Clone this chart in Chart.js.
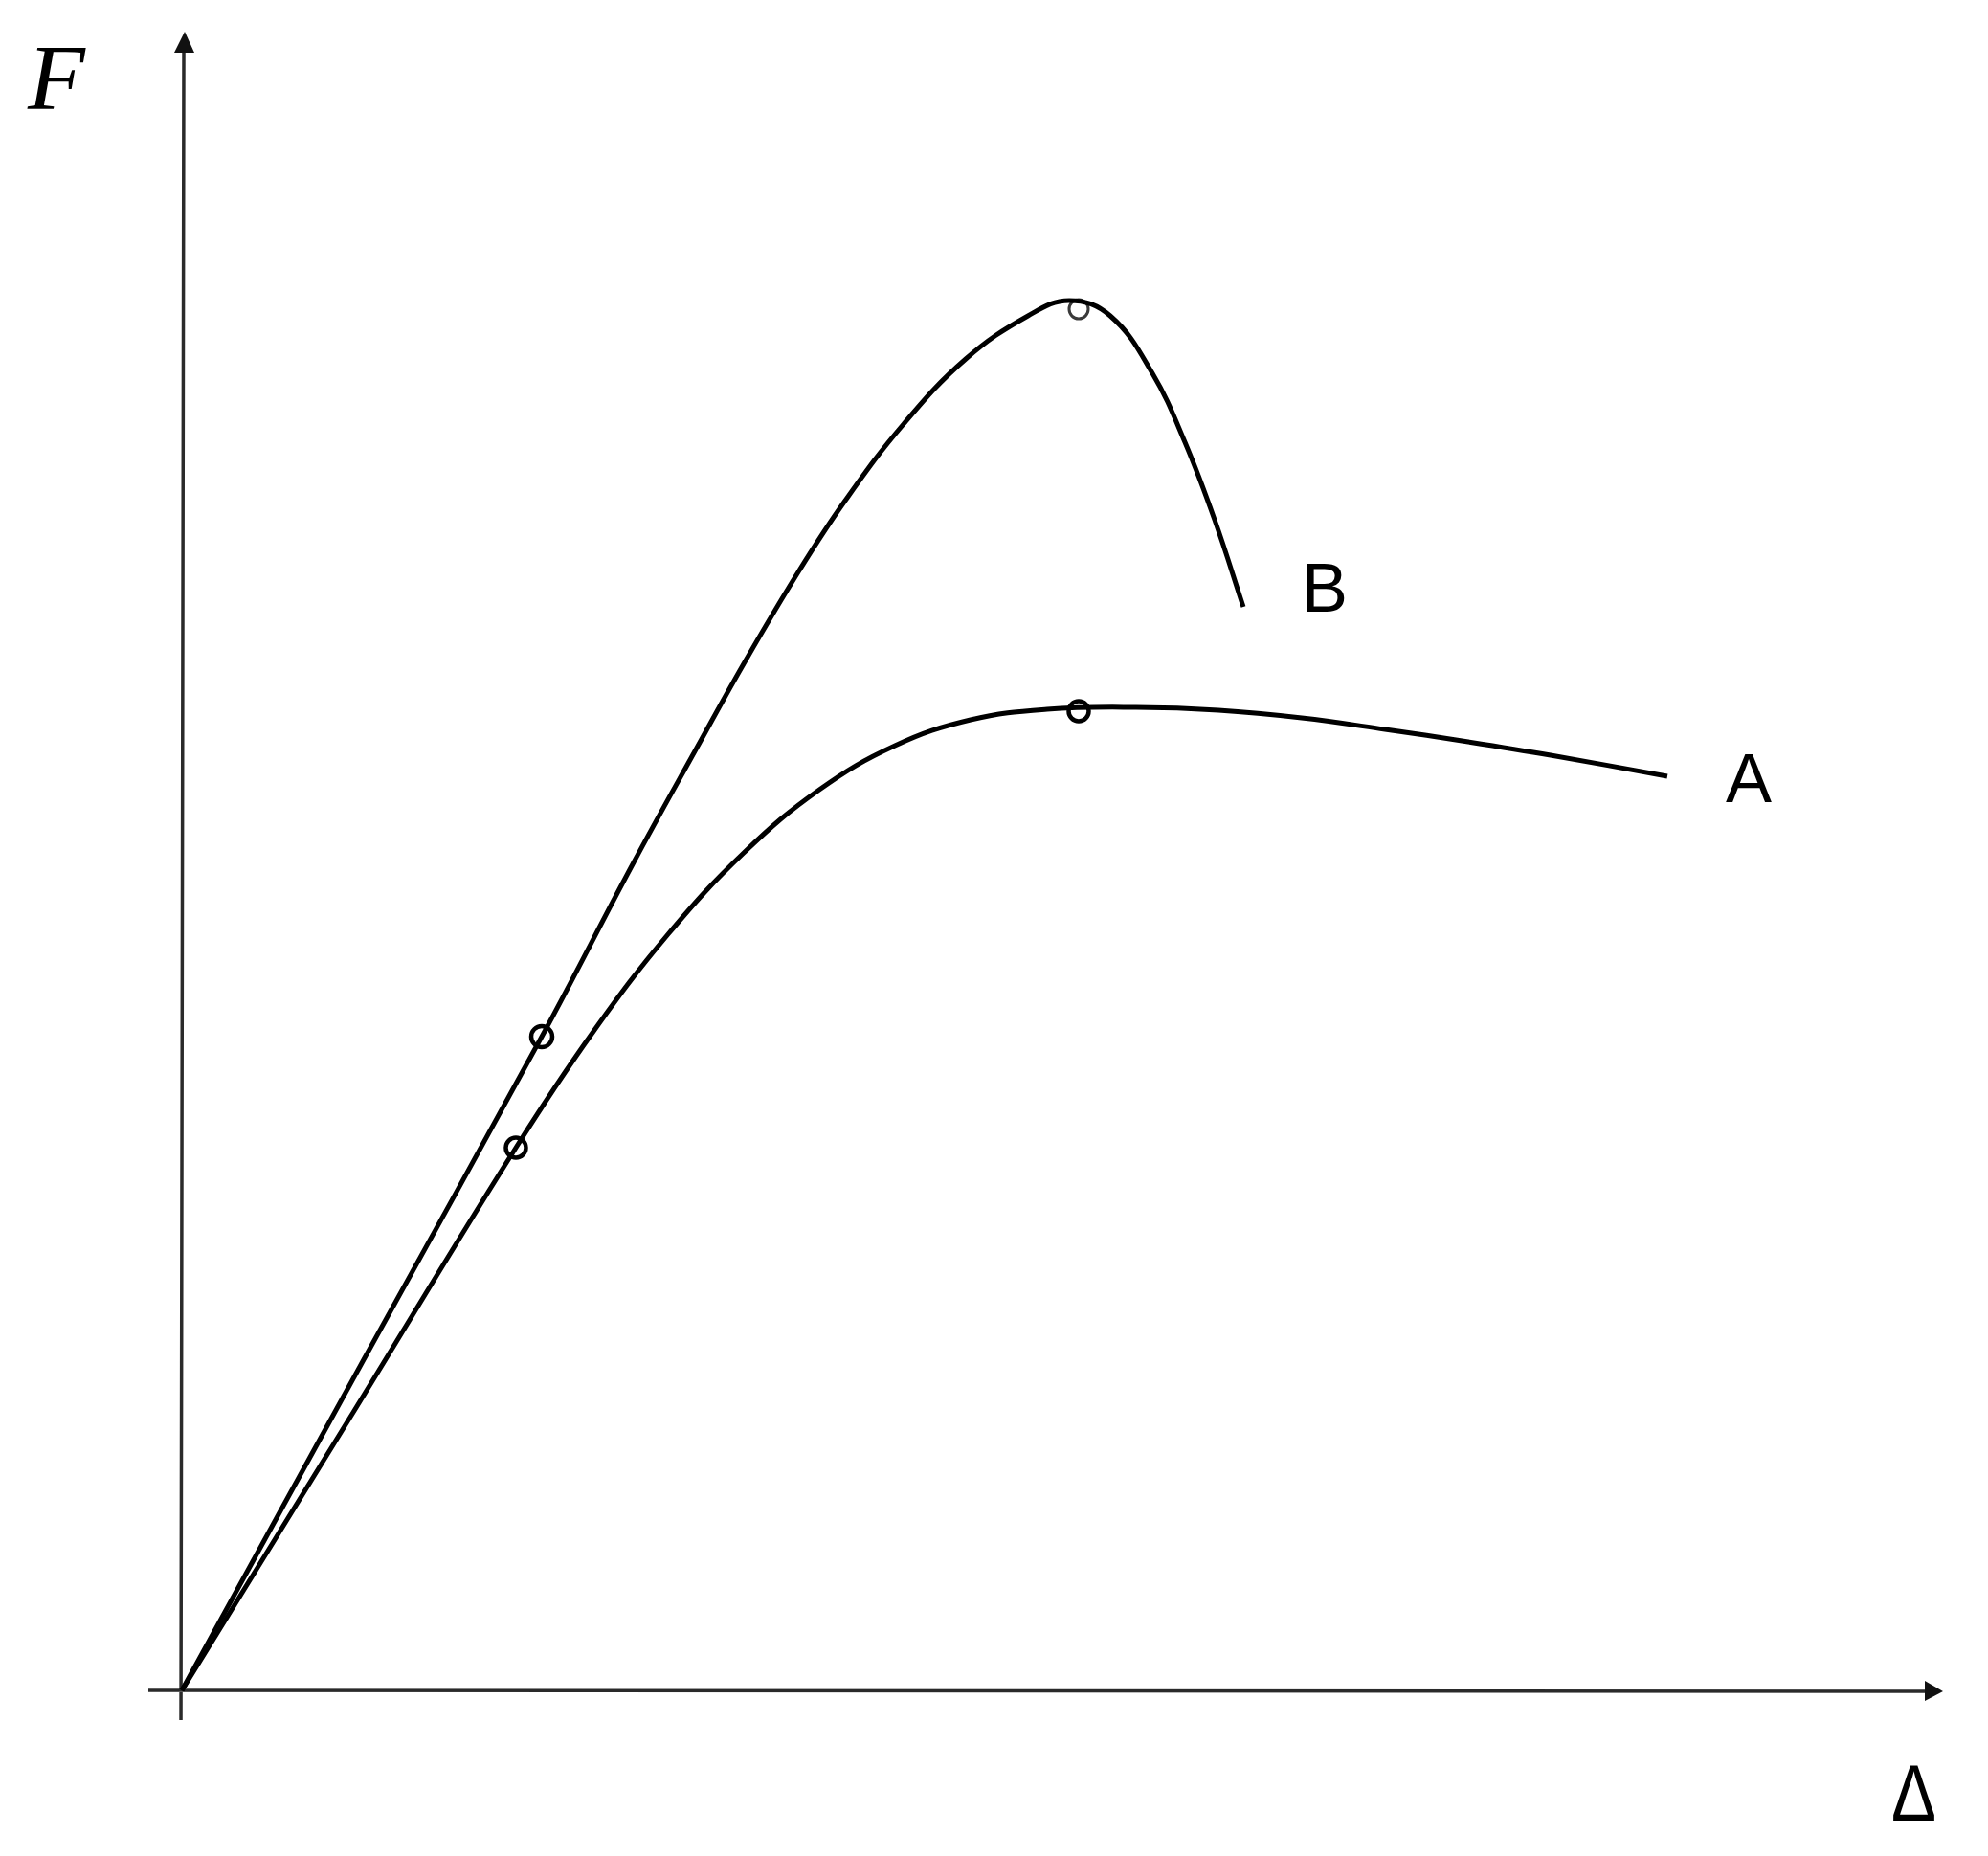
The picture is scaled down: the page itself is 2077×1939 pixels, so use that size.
<!DOCTYPE html>
<html>
<head>
<meta charset="utf-8">
<script src="https://cdn.jsdelivr.net/npm/chart.js@4/dist/chart.umd.min.js"></script>
<style>
	html, body { margin: 0; padding: 0; background: #fff; }
	#box { width: 2077px; height: 1939px; position: relative; }
</style>
</head>
<body>
<div id="box"><canvas id="forceChart"></canvas></div>
<script>
// displacement (Δ) and force (F), arbitrary units
var deltaB = [0, 1.88, 3.76, 4.72, 5.37, 5.89, 6.45, 6.93, 7.54, 8.19, 8.84, 9.27, 9.70, 10.14, 10.48, 10.79, 11.09];
var forceB = [0, 3.42, 6.83, 8.65, 9.83, 10.76, 11.70, 12.43, 13.23, 13.91, 14.36, 14.52, 14.36, 13.76, 13.04, 12.23, 11.32];

var deltaA = [0, 1.75, 3.49, 4.29, 5.08, 5.87, 6.66, 7.45, 8.24, 9.04, 9.97, 10.83, 11.70, 12.57, 13.44, 14.30, 15.52];
var forceA = [0, 2.84, 5.67, 6.87, 7.90, 8.75, 9.41, 9.87, 10.14, 10.25, 10.27, 10.24, 10.16, 10.04, 9.91, 9.77, 9.55];

// marked points: end of the linear part and the peak
var markDeltaB = [3.76, 9.37];
var markForceB = [6.83, 14.43];
var markDeltaA = [3.49, 9.37];
var markForceA = [5.67, 10.23];

var curveNames = ['B', 'A'];

function pairs(xs, ys) {
	return xs.map(function(x, i) { return { x: x, y: ys[i] }; });
}

// axes with arrows plus the letters, placed through the chart scales
var axesPlugin = {
	id: 'axes',
	beforeDatasetsDraw: function(chart) {
		var c = chart.ctx;
		var sx = chart.scales.x, sy = chart.scales.y;
		var ox = sx.getPixelForValue(0), oy = sy.getPixelForValue(0);
		var yTop = sy.getPixelForValue(17.33), yBot = sy.getPixelForValue(-0.31);
		var xLeft = sx.getPixelForValue(-0.35), xRight = sx.getPixelForValue(18.40);

		c.save();
		c.strokeStyle = '#2a2a2a';
		c.fillStyle = '#111';
		c.lineWidth = 3.5;

		c.beginPath();
		c.moveTo(ox - 1, yBot);
		c.lineTo(ox + 2, yTop + 20);
		c.moveTo(xLeft, oy);
		c.lineTo(xRight - 18, oy + 1);
		c.stroke();

		// arrow heads
		c.beginPath();
		c.moveTo(ox + 3, yTop);
		c.lineTo(ox + 13, yTop + 22);
		c.lineTo(ox - 8, yTop + 22);
		c.closePath();
		c.fill();

		c.beginPath();
		c.moveTo(xRight, oy + 1);
		c.lineTo(xRight - 19, oy - 10);
		c.lineTo(xRight - 19, oy + 11);
		c.closePath();
		c.fill();

		c.fillStyle = '#000';
		c.textBaseline = 'alphabetic';
		c.textAlign = 'left';
		c.font = 'italic 98px "Liberation Serif"';
		c.fillText('F', sx.getPixelForValue(-1.61), sy.getPixelForValue(16.52));

		c.font = '72px "Liberation Sans"';
		c.fillText(curveNames[0], sx.getPixelForValue(11.70), sy.getPixelForValue(11.27));
		c.fillText(curveNames[1], sx.getPixelForValue(16.13), sy.getPixelForValue(9.28));
		c.font = '84px "Liberation Sans"';
		c.fillText('\u0394', sx.getPixelForValue(17.86), sy.getPixelForValue(-1.36), 47);
		c.restore();
	}
};

var lineStyle = {
	borderColor: '#000',
	borderWidth: 5,
	pointRadius: 0,
	fill: false,
	tension: 0.4,
	borderCapStyle: 'butt'
};

var chart = new Chart($('forceChart'), {
	type: 'line',
	data: {
		datasets: [
			Object.assign({ label: curveNames[0], data: pairs(deltaB, forceB) }, lineStyle),
			Object.assign({ label: curveNames[1], data: pairs(deltaA, forceA) }, lineStyle),
			{
				label: 'marks B',
				type: 'scatter',
				data: pairs(markDeltaB, markForceB),
				showLine: false,
				backgroundColor: '#fff',
				pointBackgroundColor: '#fff',
				pointBorderColor: ['#000', '#3a3a3a'],
				pointBorderWidth: [4.5, 3],
				pointRadius: [11, 10]
			},
			{
				label: 'marks A',
				type: 'scatter',
				data: pairs(markDeltaA, markForceA),
				showLine: false,
				backgroundColor: '#fff',
				pointBackgroundColor: '#fff',
				pointBorderColor: '#000',
				pointBorderWidth: 4.5,
				pointRadius: 10.5
			}
		]
	},
	options: {
		responsive: true,
		maintainAspectRatio: false,
		animation: false,
		layout: { padding: 0, autoPadding: false },
		plugins: {
			legend: { display: false },
			tooltip: { enabled: false }
		},
		scales: {
			x: { type: 'linear', min: -1.90, max: 18.87, display: false },
			y: { type: 'linear', min: -1.73, max: 17.66, display: false }
		}
	},
	plugins: [axesPlugin]
});

function $(id) { return document.getElementById(id); }
</script>
</body>
</html>
